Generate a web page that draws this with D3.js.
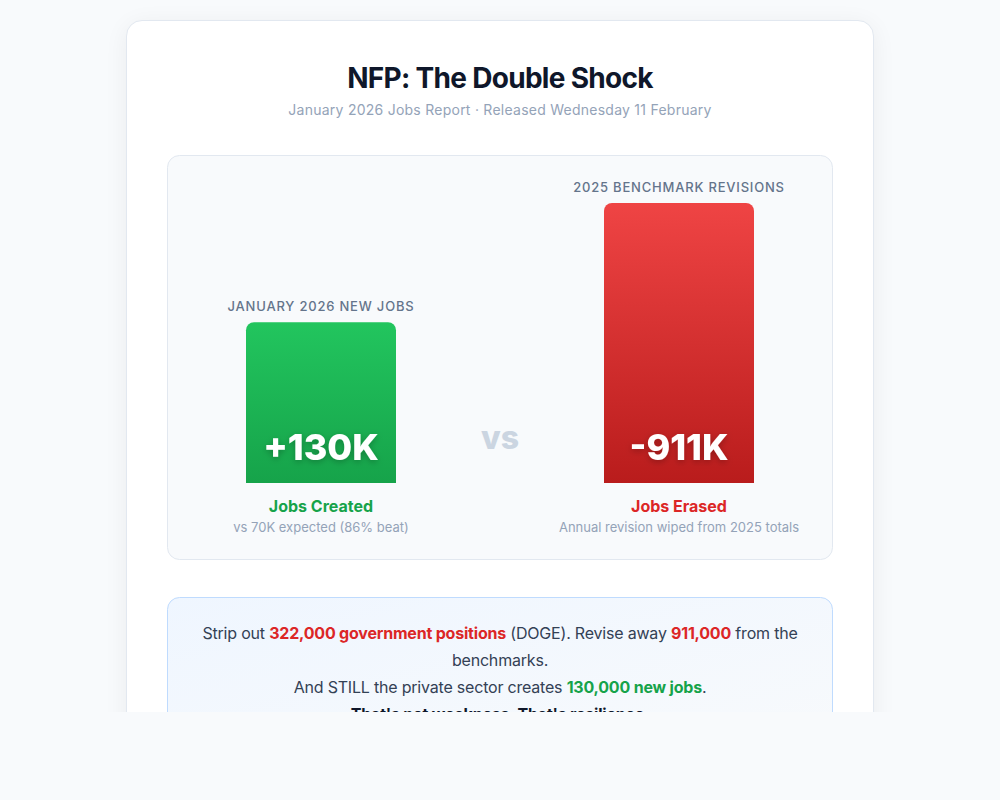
<!DOCTYPE html>
<html>
<head>
<meta charset="utf-8">
<title>NFP: The Double Shock</title>
<script src="https://d3js.org/d3.v7.min.js"></script>
<style>
    body { margin: 0; background: #f8fafc; font-family: Inter, "Noto Sans", sans-serif; }
    #page { position: relative; width: 1000px; height: 712px; overflow: hidden; }
    #card {
        position: absolute; left: 126px; top: 20px; width: 748px; height: 760px;
        box-sizing: border-box; background: #fff; border: 1px solid #e2e8f0;
        border-radius: 16px; box-shadow: 0 4px 24px rgba(15, 23, 42, 0.06);
    }
    #chart { position: absolute; left: 0; top: 0; }
</style>
</head>
<body>
<div id="page">
    <div id="card"></div>
    <svg id="chart" width="1000" height="712"></svg>
</div>
<script>
    // data
    var categories = ["JANUARY 2026 NEW JOBS", "2025 BENCHMARK REVISIONS"];
    var values = [130, -911];              // thousands of jobs
    var valueLabels = ["+130K", "-911K"];
    var captions = ["Jobs Created", "Jobs Erased"];
    var notes = ["vs 70K expected (86% beat)", "Annual revision wiped from 2025 totals"];

    var title = "NFP: The Double Shock";
    var subtitle = "January 2026 Jobs Report \u00b7 Released Wednesday 11 February";

    // callout text, one array per line: [text, style]
    var calloutLines = [
        [["Strip out ", "n"], ["322,000 government positions", "r"], [" (DOGE). Revise away ", "n"], ["911,000", "r"], [" from the", "n"]],
        [["benchmarks.", "n"]],
        [["And STILL the private sector creates ", "n"], ["130,000 new jobs", "g"], [".", "n"]],
        [["That's not weakness. That's resilience.", "b"]]
    ];

    var svg = d3.select("#chart");
    var defs = svg.append("defs");

    var grads = [["gGreen", "#22c55e", "#16a34a"], ["gRed", "#ef4444", "#b91c1c"]];
    grads.forEach(function(g) {
        var lg = defs.append("linearGradient").attr("id", g[0])
            .attr("x1", 0).attr("y1", 0).attr("x2", 0).attr("y2", 1);
        lg.append("stop").attr("offset", "0%").attr("stop-color", g[1]);
        lg.append("stop").attr("offset", "100%").attr("stop-color", g[2]);
    });
    var cg = defs.append("linearGradient").attr("id", "gCallout")
        .attr("x1", 0).attr("y1", 0).attr("x2", 1).attr("y2", 1);
    cg.append("stop").attr("offset", "0%").attr("stop-color", "#eff6ff");
    cg.append("stop").attr("offset", "100%").attr("stop-color", "#f8fafc");

    defs.append("filter").attr("id", "tshadow")
        .attr("x", "-20%").attr("y", "-40%").attr("width", "140%").attr("height", "180%")
        .append("feDropShadow").attr("dx", 0).attr("dy", 2).attr("stdDeviation", 3)
        .attr("flood-color", "#000").attr("flood-opacity", 0.25);

    // header
    svg.append("text").attr("x", 500).attr("y", 88).attr("text-anchor", "middle")
        .attr("font-size", 28).attr("font-weight", 700).attr("fill", "#0f172a")
        .attr("letter-spacing", -0.7)
        .text(title);
    svg.append("text").attr("x", 500).attr("y", 115).attr("text-anchor", "middle")
        .attr("font-size", 14).attr("fill", "#94a3b8").attr("letter-spacing", 0.25)
        .text(subtitle);

    // chart panel
    svg.append("rect").attr("x", 167.5).attr("y", 155.5).attr("width", 665).attr("height", 404)
        .attr("rx", 12).attr("fill", "#f8fafc").attr("stroke", "#e2e8f0");

    var x = d3.scaleBand().domain(categories).range([167, 833])
        .paddingInner(208 / 358).paddingOuter(79 / 358);
    var h = d3.scalePow().exponent(0.285).domain([0, 911]).range([0, 280]);
    var base = 483;
    var fills = ["url(#gGreen)", "url(#gRed)"];
    var capColors = ["#16a34a", "#dc2626"];

    function barPath(x0, w, top, r) {
        var p = d3.path();
        p.moveTo(x0, base);
        p.lineTo(x0, top + r);
        p.arcTo(x0, top, x0 + r, top, r);
        p.lineTo(x0 + w - r, top);
        p.arcTo(x0 + w, top, x0 + w, top + r, r);
        p.lineTo(x0 + w, base);
        p.closePath();
        return p.toString();
    }

    var groups = svg.selectAll(".bar").data(categories).enter().append("g").attr("class", "bar");

    groups.append("path")
        .attr("d", function(d, i) { return barPath(x(d), x.bandwidth(), base - h(Math.abs(values[i])), 8); })
        .attr("fill", function(d, i) { return fills[i]; });

    groups.append("text")
        .attr("x", function(d) { return x(d) + x.bandwidth() / 2; })
        .attr("y", function(d, i) { return base - h(Math.abs(values[i])) - 11; })
        .attr("text-anchor", "middle").attr("font-size", 13).attr("font-weight", 500)
        .attr("letter-spacing", 0.8).attr("fill", "#64748b")
        .text(function(d) { return d; });

    groups.append("text")
        .attr("x", function(d) { return x(d) + x.bandwidth() / 2; })
        .attr("y", base - 23)
        .attr("text-anchor", "middle").attr("font-size", 36).attr("font-weight", 800)
        .attr("fill", "#fff").attr("filter", "url(#tshadow)")
        .text(function(d, i) { return valueLabels[i]; });

    groups.append("text")
        .attr("x", function(d) { return x(d) + x.bandwidth() / 2; })
        .attr("y", base + 29)
        .attr("text-anchor", "middle").attr("font-size", 16).attr("font-weight", 700)
        .attr("fill", function(d, i) { return capColors[i]; })
        .text(function(d, i) { return captions[i]; });

    groups.append("text")
        .attr("x", function(d) { return x(d) + x.bandwidth() / 2; })
        .attr("y", base + 49)
        .attr("text-anchor", "middle").attr("font-size", 13).attr("fill", "#94a3b8")
        .text(function(d, i) { return notes[i]; });

    svg.append("text").attr("x", 500).attr("y", 449).attr("text-anchor", "middle")
        .attr("font-size", 32).attr("font-weight", 800).attr("fill", "#cbd5e1")
        .text("vs");

    // callout
    svg.append("rect").attr("x", 167.5).attr("y", 597.5).attr("width", 665).attr("height", 160)
        .attr("rx", 12).attr("fill", "url(#gCallout)").attr("stroke", "#bfdbfe");

    var styleFill = { n: "#334155", r: "#dc2626", g: "#16a34a", b: "#0f172a" };
    calloutLines.forEach(function(line, li) {
        var t = svg.append("text").attr("x", 500).attr("y", 639 + li * 27)
            .attr("text-anchor", "middle").attr("font-size", 16).attr("letter-spacing", -0.2);
        t.selectAll("tspan").data(line).enter().append("tspan")
            .attr("fill", function(s) { return styleFill[s[1]]; })
            .attr("font-weight", function(s) { return s[1] === "n" ? 400 : 700; })
            .style("white-space", "pre")
            .text(function(s) { return s[0]; });
    });
</script>
</body>
</html>
